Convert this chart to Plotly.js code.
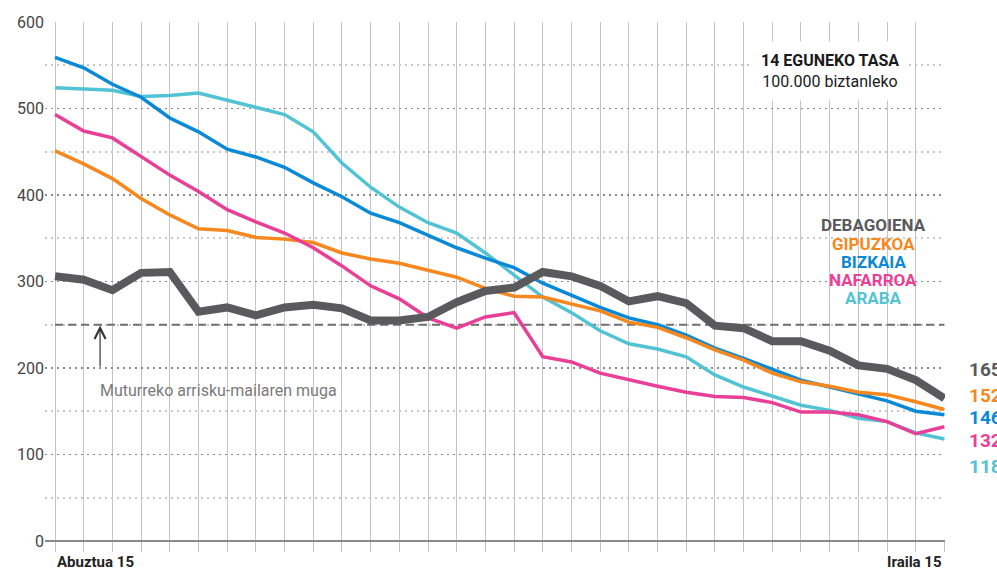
<!DOCTYPE html>
<html>
<head>
<meta charset="utf-8">
<script src="https://cdn.plot.ly/plotly-3.0.1.min.js"></script>
<style>html,body{margin:0;padding:0;background:#fff;}#chart{width:997px;height:570px;}</style>
</head>
<body>
<div id="chart"></div>
<script>
// Days: Abuztua 15 -> Iraila 15
const days = ['08-15','08-16','08-17','08-18','08-19','08-20','08-21','08-22','08-23','08-24','08-25','08-26','08-27','08-28','08-29','08-30','08-31',
              '09-01','09-02','09-03','09-04','09-05','09-06','09-07','09-08','09-09','09-10','09-11','09-12','09-13','09-14','09-15'];
const xLabels = ['Abuztua 15', 'Iraila 15'];

const debagoiena = [306,302,290,310,311,265,270,261,270,273,269,255,255,259,276,289,293,311,306,295,277,283,275,249,246,231,231,220,203,199,186,165];
const gipuzkoa   = [451,436,419,396,377,361,359,351,349,345,333,326,321,313,305,292,283,282,274,266,253,247,235,221,209,194,184,179,172,169,161,152];
const bizkaia    = [559,547,528,513,489,473,453,444,432,414,398,379,368,353,339,327,316,298,284,270,258,250,238,223,211,198,186,178,170,162,150,146];
const nafarroa   = [493,474,466,444,423,404,383,369,356,339,318,295,280,258,246,259,264,213,207,194,186,179,172,167,166,160,149,149,146,138,124,132];
const araba      = [524,522,521,514,515,518,510,501,493,473,437,409,386,368,356,333,308,282,264,243,228,222,213,192,178,167,157,151,142,138,125,118];

const seriesNames = ['DEBAGOIENA','GIPUZKOA','BIZKAIA','NAFARROA','ARABA'];
const threshold = 250;
const thresholdLabel = 'Muturreko arrisku-mailaren muga';
const titleLine1 = '14 EGUNEKO TASA';
const titleLine2 = '100.000 biztanleko';

const colors = {DEBAGOIENA:'#5a5a5c', GIPUZKOA:'#f7881f', BIZKAIA:'#0a8ad6', NAFARROA:'#ea3f97', ARABA:'#52c3d5'};
const values = {DEBAGOIENA:debagoiena, GIPUZKOA:gipuzkoa, BIZKAIA:bizkaia, NAFARROA:nafarroa, ARABA:araba};
const widths = {DEBAGOIENA:8, GIPUZKOA:3.5, BIZKAIA:3.5, NAFARROA:3.5, ARABA:3.5};

const drawOrder = ['ARABA','BIZKAIA','GIPUZKOA','NAFARROA','DEBAGOIENA'];
const traces = drawOrder.map(n => ({
  type:'scatter', mode:'lines', name:n, x:days, y:values[n],
  line:{color:colors[n], width:widths[n], shape:'linear'},
  hoverinfo:'x+y+name'
}));

const F = 'Roboto, "Liberation Sans", Arial, sans-serif';
const annotations = [];

// Title block
annotations.push({xref:'x', yref:'y', x:27.0, y:543, text:'<b>'+titleLine1+'</b><br>'+titleLine2,
  showarrow:false, align:'center', font:{family:F, size:16, color:'#1a1a1a'},
  bgcolor:'#ffffff', borderpad:9});

// Legend lines
const legendY = [0.6089, 0.5723, 0.5376, 0.5029, 0.4682];
seriesNames.forEach((n,i) => {
  annotations.push({xref:'paper', yref:'paper', x:(873-45)/900, y:legendY[i], text:'<b>'+n+'</b>',
    showarrow:false, xanchor:'center', yanchor:'middle', font:{family:F, size:17, color:colors[n]}});
});

// Right end value labels
const endY = [0.3295, 0.2813, 0.2370, 0.1927, 0.1445];
seriesNames.forEach((n,i) => {
  const v = values[n][values[n].length-1];
  annotations.push({xref:'paper', yref:'paper', x:(967-45)/900, y:endY[i], text:'<b>'+v+'</b>',
    showarrow:false, xanchor:'left', yanchor:'middle', font:{family:F, size:19, color:colors[n]}});
});

// Threshold arrow and label
annotations.push({xref:'x', yref:'y', x:1.57, y:threshold-1, axref:'x', ayref:'y', ax:1.57, ay:200,
  text:'', showarrow:true, arrowhead:5, arrowsize:1.8, arrowwidth:1.2, arrowcolor:'#333', standoff:0, startstandoff:0});
annotations.push({xref:'x', yref:'y', x:1.50, y:173.5, text:thresholdLabel, showarrow:false,
  xanchor:'left', yanchor:'middle', font:{family:F, size:16, color:'#7a7a7a'}});

// X end labels
annotations.push({xref:'x', yref:'paper', x:0, y:-0.041, text:'<b>'+xLabels[0]+'</b>', showarrow:false,
  xanchor:'left', yanchor:'middle', font:{family:F, size:15, color:'#222'}});
annotations.push({xref:'x', yref:'paper', x:days.length-1, y:-0.041, text:'<b>'+xLabels[1]+'</b>', showarrow:false,
  xanchor:'right', yanchor:'middle', font:{family:F, size:15, color:'#222'}});

const shapes = [
  // white box behind legend
  {type:'rect', xref:'paper', yref:'paper', layer:'between',
   x0:(815-45)/900, x1:(932-45)/900, y0:(541-309)/519, y1:(541-212)/519,
   fillcolor:'#ffffff', line:{width:0}},
  // threshold dashed line
  {type:'line', xref:'x', yref:'y', x0:0, x1:days.length-1, y0:threshold, y1:threshold,
   line:{color:'#707070', width:2, dash:'8px,5px'}, layer:'between'}
];

const layout = {
  width:997, height:570,
  margin:{l:45, r:52, t:22, b:29},
  paper_bgcolor:'#ffffff', plot_bgcolor:'#ffffff',
  showlegend:false,
  font:{family:F},
  xaxis:{type:'category', range:[-0.35, 31.02], showgrid:true, gridcolor:'#c4c4c4', gridwidth:1,
    ticks:'outside', ticklen:10, tickcolor:'#c4c4c4', tickwidth:1, showticklabels:false,
    zeroline:false, showline:false, fixedrange:true},
  yaxis:{range:[0,600], tick0:0, dtick:100, showgrid:true, gridcolor:'#8a8a8a', griddash:'2px,4px', gridwidth:1.8,
    minor:{dtick:50, showgrid:true, gridcolor:'#c8c8c8', griddash:'2px,4px', gridwidth:1.8},
    zeroline:true, zerolinecolor:'#8a8a8a', zerolinewidth:2.5,
    ticks:'', showline:false, tickfont:{family:F, size:16, color:'#444'}, fixedrange:true},
  annotations:annotations,
  shapes:shapes
};

Plotly.newPlot('chart', traces, layout, {displayModeBar:false, staticPlot:true});
</script>
</body>
</html>
